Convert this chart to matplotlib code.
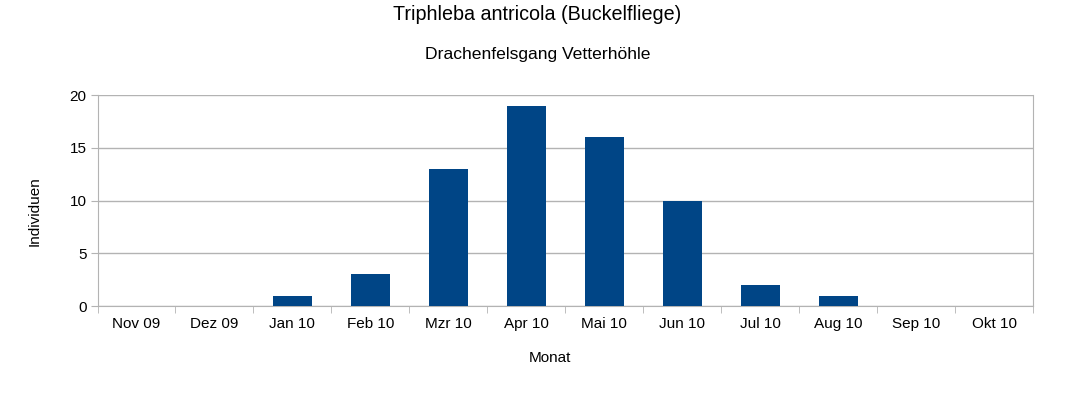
import numpy as np
import matplotlib
matplotlib.use("Agg")
import matplotlib.pyplot as plt

plt.rcParams['font.family'] = ['Liberation Sans', 'DejaVu Sans']

# data
months = ["Nov 09", "Dez 09", "Jan 10", "Feb 10", "Mzr 10", "Apr 10",
          "Mai 10", "Jun 10", "Jul 10", "Aug 10", "Sep 10", "Okt 10"]
individuals = [0, 0, 1, 3, 13, 19, 16, 10, 2, 1, 0, 0]

BAR_COLOR = "#004586"
GRID_COLOR = "#b3b3b3"

fig = plt.figure(figsize=(10.75, 4.12), dpi=100)
ax = fig.add_axes([0.0907, 0.257, 0.8703, 0.512])

x = np.arange(len(months))
ax.bar(x, individuals, width=0.5, color=BAR_COLOR, zorder=3)

ax.set_xlim(-0.5, len(months) - 0.5)
ax.set_ylim(0, 20)
ax.set_yticks([0, 5, 10, 15, 20])

# category labels centred, tick marks on boundaries
ax.set_xticks(x)
ax.set_xticklabels(months, fontsize=11)
ax.tick_params(axis='x', which='major', length=0, pad=8)
ax.set_xticks(np.arange(-0.5, len(months)), minor=True)
ax.tick_params(axis='x', which='minor', length=5, color=GRID_COLOR, direction='out')
ax.tick_params(axis='y', length=5, color=GRID_COLOR, labelsize=11, pad=3)

ax.yaxis.grid(True, color=GRID_COLOR, linewidth=1, zorder=0)
for side in ['left', 'right', 'top', 'bottom']:
    ax.spines[side].set_color(GRID_COLOR)
ax.spines['top'].set_visible(False)

# axis titles placed like the original (slightly off-centre)
fig.text(0.0326, 0.488, "Individuen", rotation=90, ha='center', va='center', fontsize=11)
fig.text(0.512, 0.131, "Monat", ha='center', va='center', fontsize=11)

fig.text(0.5, 0.966, "Triphleba antricola (Buckelfliege)", ha='center', va='center', fontsize=14.2)
fig.text(0.5, 0.868, "Drachenfelsgang Vetterhöhle", ha='center', va='center', fontsize=12.6)

fig.savefig("out.png", dpi=100)
